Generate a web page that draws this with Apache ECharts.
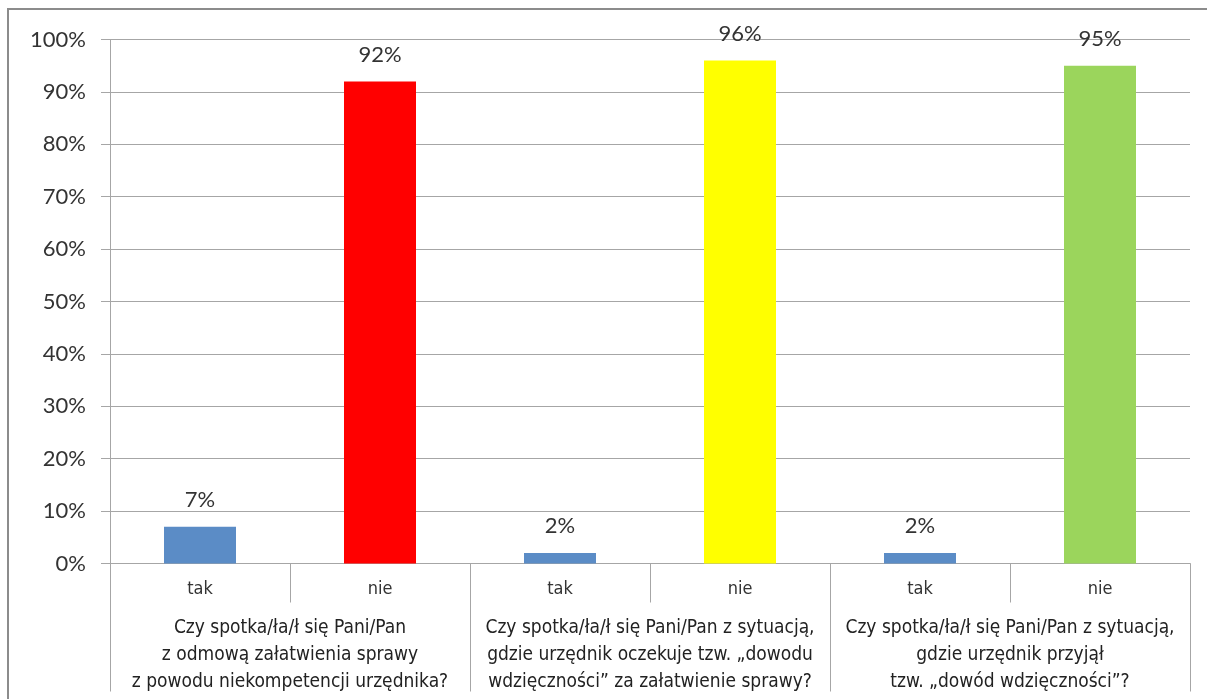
<!DOCTYPE html>
<html>
<head>
<meta charset="utf-8">
<script src="https://cdn.jsdelivr.net/npm/echarts@6/dist/echarts.min.js"></script>
<style>
  html, body { margin: 0; padding: 0; background: #fff; }
  #chart { width: 1207px; height: 699px; }
</style>
</head>
<body>
<div id="chart"></div>
<script>
// Answers per question (percent of respondents)
const answers = ['tak', 'nie', 'tak', 'nie', 'tak', 'nie'];
const shares = [7, 92, 2, 96, 2, 95];
const questions = [
  'Czy spotka/ła/ł się Pani/Pan\nz odmową załatwienia sprawy\nz powodu niekompetencji urzędnika?',
  'Czy spotka/ła/ł się Pani/Pan z sytuacją,\ngdzie urzędnik oczekuje tzw. „dowodu\nwdzięczności” za załatwienie sprawy?',
  'Czy spotka/ła/ł się Pani/Pan z sytuacją,\ngdzie urzędnik przyjął\ntzw. „dowód wdzięczności”?'
];

const barPalette = ['#5B8CC6', '#FF0000', '#5B8CC6', '#FFFF00', '#5B8CC6', '#9BD55C'];
const gridGray = '#a6a6a6';
const narrow = '"Liberation Sans Narrow", "DejaVu Sans Condensed", sans-serif';

const chart = echarts.init(document.getElementById('chart'), null, { renderer: 'canvas' });

chart.setOption({
  animation: false,
  backgroundColor: '#fff',
  graphic: [{
    type: 'rect',
    shape: { x: 8, y: 9, width: 1230, height: 730 },
    style: { fill: 'none', stroke: '#8c8c8c', lineWidth: 2 },
    silent: true
  }],
  grid: { left: 110, right: 17, top: 39.5, bottom: 135.5, containLabel: false },
  yAxis: {
    type: 'value',
    min: 0,
    max: 100,
    interval: 10,
    axisLine: { show: true, lineStyle: { color: gridGray, width: 1 } },
    axisTick: { show: true, length: 9, lineStyle: { color: gridGray } },
    splitLine: { show: true, lineStyle: { color: gridGray, width: 1 } },
    axisLabel: {
      formatter: '{value}%',
      margin: 24,
      fontFamily: 'Lato, sans-serif',
      fontSize: 22,
      color: '#333'
    }
  },
  xAxis: [
    {
      type: 'category',
      position: 'bottom',
      data: answers,
      axisLine: { show: true, lineStyle: { color: gridGray, width: 1 } },
      axisTick: { show: true, interval: 0, length: 39, alignWithLabel: false, lineStyle: { color: gridGray } },
      axisLabel: {
        interval: 0,
        margin: 17,
        fontFamily: narrow,
        fontSize: 18,
        color: '#333'
      },
      splitLine: { show: false }
    },
    {
      type: 'category',
      position: 'bottom',
      data: questions,
      axisLine: { show: false },
      axisTick: { show: true, interval: 0, length: 128, alignWithLabel: false, lineStyle: { color: gridGray } },
      axisLabel: {
        interval: 0,
        margin: 51,
        fontFamily: narrow,
        fontSize: 19,
        lineHeight: 27,
        color: '#222',
        align: 'center'
      },
      splitLine: { show: false }
    }
  ],
  series: [{
    type: 'bar',
    xAxisIndex: 0,
    data: shares,
    barWidth: '40%',
    itemStyle: {
      color: (p) => barPalette[p.dataIndex]
    },
    label: {
      show: true,
      position: 'top',
      distance: 16,
      formatter: '{c}%',
      fontFamily: 'Lato, sans-serif',
      fontSize: 22,
      color: '#333'
    }
  }]
});
</script>
</body>
</html>
